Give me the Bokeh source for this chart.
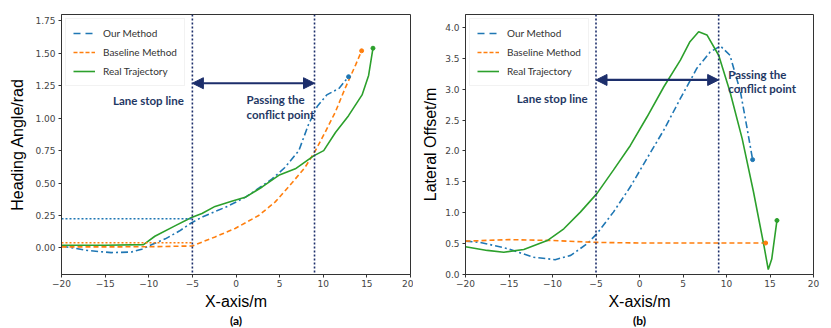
import math
from bokeh.plotting import figure
from bokeh.models import (Span, Arrow, NormalHead, Label, Legend,
                          LegendItem, FixedTicker, Range1d, LinearAxis)
from bokeh.layouts import row
from bokeh.embed import file_html
from bokeh.resources import INLINE

# ---------------- data: (a) heading angle ----------------
a_ours_x = [-20, -17, -14.3, -12, -10.8, -9.5, -8.1, -6.5, -5.07, -3.8, -2.4, -1.0, -0.1, 1.05, 2.6, 4.1, 5.6, 7.2, 8.3, 9.3, 10.4, 11.8, 12.9]
a_ours_y = [0.015, -0.02, -0.036, -0.032, -0.01, 0.03, 0.07, 0.13, 0.195, 0.24, 0.28, 0.32, 0.35, 0.39, 0.46, 0.53, 0.62, 0.75, 0.95, 1.09, 1.18, 1.23, 1.32]
a_base_x = [-20, -15, -10, -5, -2.4, -0.1, 2.6, 4.5, 6.4, 7.9, 9.1, 10.2, 11.4, 12.5, 13.7, 14.4]
a_base_y = [0.008, 0.008, 0.009, 0.015, 0.085, 0.15, 0.25, 0.355, 0.5, 0.62, 0.75, 0.89, 1.05, 1.23, 1.41, 1.52]
a_real_x = [-20, -15, -10.6, -9.3, -7, -5.1, -3.9, -2.4, -0.5, 1.05, 3, 4.9, 6.8, 8.9, 10.05, 11.4, 12.9, 14.45, 15.2, 15.7]
a_real_y = [0.02, 0.02, 0.025, 0.09, 0.17, 0.235, 0.265, 0.32, 0.36, 0.39, 0.47, 0.56, 0.61, 0.71, 0.75, 0.89, 1.02, 1.18, 1.33, 1.54]
a_ref_x = [-20, -5]
a_ref_ours_y = [0.225, 0.225]
a_ref_base_y = [0.04, 0.04]

# ---------------- data: (b) lateral offset ----------------
b_ours_x = [-20, -18.3, -15.2, -12.2, -9.7, -7.9, -6, -4.9, -3, -1.05, 0.86, 2.8, 4.7, 6.6, 8.1, 9.3, 10.4, 11.6, 12.3, 13.0]
b_ours_y = [0.54, 0.52, 0.42, 0.28, 0.24, 0.31, 0.5, 0.66, 1.01, 1.42, 1.88, 2.34, 2.85, 3.34, 3.6, 3.7, 3.55, 2.96, 2.42, 1.86]
b_base_x = [-20, -15, -10, -5, 0, 5, 10, 14.5]
b_base_y = [0.54, 0.565, 0.55, 0.52, 0.51, 0.51, 0.51, 0.51]
b_real_x = [-20, -17.5, -15.6, -13.3, -10.6, -8.7, -6.8, -4.9, -3, -1.05, 0.86, 2.8, 4.7, 5.8, 6.8, 7.75, 9.1, 10.4, 11.8, 13.1, 14.3, 14.8, 15.2, 15.8]
b_real_y = [0.45, 0.39, 0.36, 0.405, 0.55, 0.74, 1.01, 1.31, 1.69, 2.09, 2.55, 3.04, 3.47, 3.77, 3.93, 3.88, 3.55, 2.96, 2.2, 1.34, 0.47, 0.08, 0.25, 0.875]

x_ticks = [-20, -15, -10, -5, 0, 5, 10, 15, 20]
a_y_ticks = [0.0, 0.25, 0.5, 0.75, 1.0, 1.25, 1.5, 1.75]
a_y_labels = {0.0: "0.00", 0.25: "0.25", 0.5: "0.50", 0.75: "0.75", 1.0: "1.00", 1.25: "1.25", 1.5: "1.50", 1.75: "1.75"}
b_y_ticks = [0.0, 0.5, 1.0, 1.5, 2.0, 2.5, 3.0, 3.5, 4.0]
b_y_labels = {v: f"{v:.1f}" for v in b_y_ticks}

stop_x = -5

BLUE = "#1f77b4"
ORANGE = "#ff7f0e"
GREEN = "#2ca02c"
NAVY = "#1c2e6b"
TXT = "#1f3864"
NAN = [math.nan]


def make(title_tag, ylabel, yr, yticks, ylabels, ours, base, real, arrow_y, lane_xy, pass_xy,
         left_border, right_border, frame_w, conflict, ylabel_standoff):
    p = figure(frame_width=frame_w, frame_height=260, output_backend="svg", toolbar_location=None,
               x_range=Range1d(-20, 20), y_range=Range1d(*yr),
               min_border_left=left_border, min_border_right=right_border, min_border_top=14,
               min_border_bottom=0)
    p.grid.visible = False
    p.outline_line_color = "#333333"
    p.outline_line_width = 1
    for ax in (p.xaxis[0], p.yaxis[0]):
        ax.major_label_text_font = "DejaVu Sans"
        ax.major_label_text_font_size = "9px"
        ax.major_label_text_color = "#444444"
        ax.minor_tick_line_color = None
        ax.major_tick_out = 3
        ax.major_tick_in = 0
        ax.major_label_standoff = 3
        ax.axis_line_color = "#333333"
        ax.major_tick_line_color = "#333333"
        ax.axis_label_text_font = "Liberation Sans"
        ax.axis_label_text_font_size = "16px"
        ax.axis_label_text_font_style = "normal"
        ax.axis_label_text_color = "black"
    p.xaxis.major_label_standoff = 2
    p.xaxis.ticker = FixedTicker(ticks=x_ticks)
    p.yaxis.ticker = FixedTicker(ticks=yticks)
    p.yaxis.major_label_overrides = ylabels
    p.xaxis.axis_label = "X-axis/m"
    p.yaxis.axis_label = ylabel
    p.xaxis.axis_label_standoff = 3
    p.yaxis.axis_label_standoff = ylabel_standoff

    # panel tag "(a)" / "(b)" as a tick-less axis title under the x-axis title
    tag = LinearAxis(ticker=FixedTicker(ticks=[]), axis_line_color=None,
                     major_tick_out=0, major_tick_in=0, minor_tick_out=0, minor_tick_in=0,
                     major_label_standoff=0, axis_label=title_tag, axis_label_standoff=0,
                     axis_label_text_font="Lato", axis_label_text_font_size="12px",
                     axis_label_text_font_style="bold", axis_label_text_color="black")
    p.add_layout(tag, "below")

    for xv in (stop_x, conflict):
        p.add_layout(Span(location=xv, dimension="height", line_color=NAVY,
                          line_dash="2 2", line_width=1.6))

    p.line(ours[0], ours[1], line_color=BLUE, line_width=1.6, line_dash="7 3 2 3")
    p.line(base[0], base[1], line_color=ORANGE, line_width=1.6, line_dash="5 3")
    p.line(real[0], real[1], line_color=GREEN, line_width=1.6)
    p.scatter([ours[0][-1]], [ours[1][-1]], size=4, color=BLUE)
    p.scatter([base[0][-1]], [base[1][-1]], size=4, color=ORANGE)
    p.scatter([real[0][-1]], [real[1][-1]], size=4, color=GREEN)

    # legend proxies (not drawn in the plot area)
    l_ours = p.line(NAN, NAN, line_color=BLUE, line_width=1.6, line_dash="7 5")
    l_base = p.line(NAN, NAN, line_color=ORANGE, line_width=1.6, line_dash="4 2")
    l_real = p.line(NAN, NAN, line_color=GREEN, line_width=1.6)
    legend = Legend(items=[LegendItem(label="Our Method", renderers=[l_ours]),
                           LegendItem(label="Baseline Method", renderers=[l_base]),
                           LegendItem(label="Real Trajectory", renderers=[l_real])],
                    location="top_left", margin=4, padding=7, spacing=5,
                    glyph_width=22, glyph_height=14, label_standoff=8,
                    label_text_font="Lato", label_text_font_size="10px",
                    label_text_color="#333333", border_line_color="#e6e6e6",
                    border_line_width=1, background_fill_alpha=1.0)
    p.add_layout(legend)

    p.add_layout(Arrow(x_start=stop_x, y_start=arrow_y, x_end=conflict, y_end=arrow_y,
                       line_color=NAVY, line_width=2.2,
                       start=NormalHead(size=11, fill_color=NAVY, line_color=NAVY),
                       end=NormalHead(size=11, fill_color=NAVY, line_color=NAVY)))

    for (x, y, s) in [(lane_xy[0], lane_xy[1], "Lane stop line"),
                      (pass_xy[0], pass_xy[1], "Passing the"),
                      (pass_xy[0], pass_xy[2], "conflict point")]:
        p.add_layout(Label(x=x, y=y, text=s, text_font="Lato", text_font_size="11.5px",
                           text_font_style="bold", text_color=TXT, text_baseline="middle"))
    return p


pa = make("(a)", "Heading Angle/rad", (-0.205, 1.8), a_y_ticks, a_y_labels,
          (a_ours_x, a_ours_y), (a_base_x, a_base_y), (a_real_x, a_real_y),
          1.27, (-14.1, 1.135), (1.2, 1.145, 1.03), 61, 3, 349, 9, 6)
pa.line(a_ref_x, a_ref_ours_y, line_color=BLUE, line_width=1.5, line_dash="2 2")
pa.line(a_ref_x, a_ref_base_y, line_color=ORANGE, line_width=1.5, line_dash="2 2")

pb = make("(b)", "Lateral Offset/m", (0, 4.21), b_y_ticks, b_y_labels,
          (b_ours_x, b_ours_y), (b_base_x, b_base_y), (b_real_x, b_real_y),
          3.15, (-14.1, 2.85), (10.2, 3.24, 3.01), 52, 8, 348, 9.1, 3)

layout = row(pa, pb)
open("out.html", "w").write(file_html(layout, INLINE))
